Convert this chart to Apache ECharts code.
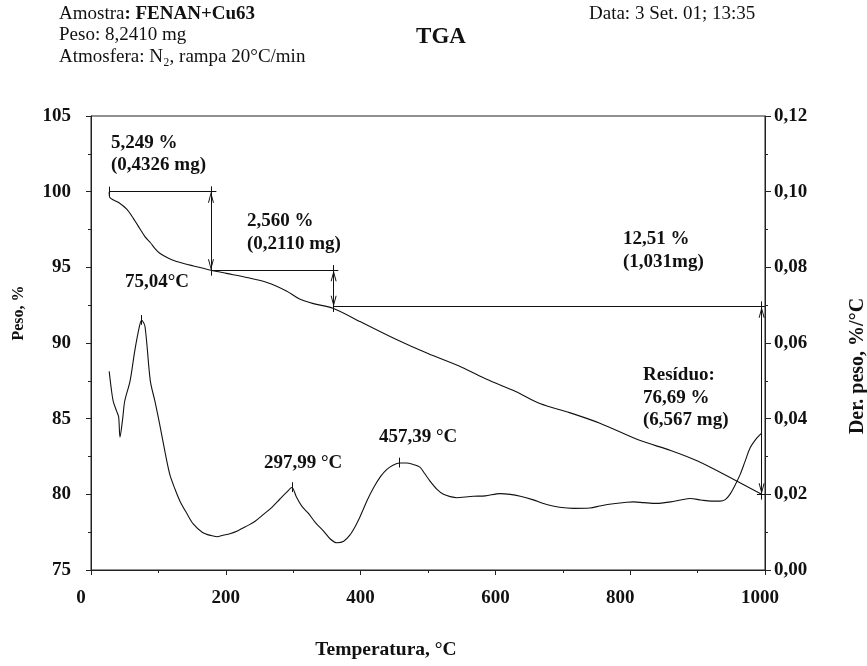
<!DOCTYPE html>
<html><head><meta charset="utf-8">
<script src="https://cdn.jsdelivr.net/npm/echarts@6/dist/echarts.min.js"></script>
<style>html,body{margin:0;padding:0;background:#fff}#c{width:867px;height:666px}</style>
</head><body><div id="c"></div>
<script>
const FONT = '"Liberation Serif", "Times New Roman", Times, serif';

// TGA curve (weight %, left axis)
const tgaTemp = [27, 28, 41, 53, 63, 73, 80, 88, 95, 102, 115, 127, 140, 152, 165, 178, 201, 231, 261, 290, 308, 330, 359, 400, 450, 500, 550, 587, 630, 666, 710, 755, 815, 860, 900, 953, 995];
const tgaWeight = [100.0, 99.61, 99.28, 98.84, 98.22, 97.52, 97.03, 96.64, 96.24, 95.93, 95.6, 95.38, 95.22, 95.09, 94.95, 94.81, 94.6, 94.33, 94.0, 93.44, 92.94, 92.6, 92.3, 91.4, 90.3, 89.3, 88.4, 87.6, 86.8, 86.0, 85.4, 84.7, 83.55, 82.9, 82.2, 81.0, 80.0];

// DTG curve (derivative %/°C, right axis)
const dtgTemp = [27, 30, 33, 38, 41, 43, 47, 50, 58, 65, 72, 75, 80, 88, 95, 102, 110, 117, 125, 132, 142, 152, 165, 178, 187, 196, 206, 218, 231, 243, 256, 268, 280, 290, 298, 305, 313, 322, 333, 345, 355, 365, 375, 384, 392, 399, 410, 419, 430, 439, 448, 458, 468, 478, 488, 495, 503, 513, 523, 533, 543, 555, 567, 585, 607, 622, 637, 655, 676, 695, 716, 740, 757, 775, 795, 805, 820, 839, 860, 875, 889, 905, 920, 933, 941, 948, 955, 963, 970, 978, 988, 995];
const dtgRate = [0.0525, 0.048, 0.0446, 0.042, 0.0405, 0.0351, 0.040, 0.0446, 0.050, 0.058, 0.0645, 0.066, 0.0645, 0.050, 0.0445, 0.0384, 0.031, 0.0252, 0.0212, 0.0182, 0.015, 0.0121, 0.0100, 0.0091, 0.0088, 0.0092, 0.0096, 0.0104, 0.0116, 0.0128, 0.0147, 0.0165, 0.0187, 0.0205, 0.0218, 0.0192, 0.0168, 0.0151, 0.0125, 0.0103, 0.0082, 0.0072, 0.0076, 0.0092, 0.0115, 0.014, 0.0185, 0.0217, 0.0248, 0.0266, 0.0277, 0.0283, 0.0283, 0.0279, 0.0272, 0.0255, 0.0235, 0.0214, 0.0200, 0.0194, 0.0191, 0.0193, 0.0195, 0.0196, 0.0202, 0.0200, 0.0195, 0.0186, 0.0173, 0.0166, 0.0163, 0.0164, 0.0170, 0.0175, 0.0179, 0.0180, 0.0178, 0.0176, 0.0180, 0.0185, 0.0189, 0.0185, 0.0182, 0.0182, 0.0186, 0.0200, 0.0222, 0.0252, 0.0285, 0.0323, 0.0349, 0.0362];

// Weight-loss steps
const stepTemps = [27, 178, 360, 995];
const stepWeights = [100.0, 94.8, 92.4, 80.0];
const stepLineEnds = [186, 367, 1000];

// DTG peaks
const peakTemps = [75.04, 297.99, 457.39];
const peakRates = [0.066, 0.0218, 0.0283];

// Axis tick settings
const xMin = 0, xMax = 1000, xStep = 200;
const yMin = 75, yMax = 105, yStep = 5;
const y2Min = 0, y2Max = 0.12, y2Step = 0.02;

// open arrowhead with its tip at the symbol centre (tiny dot keeps the bbox symmetric)
const arrowPath = 'path://M5,0 L5.02,0.03 L4.98,0.03 Z M5,12 L10,24 L8.3,24 L5,15.6 L1.7,24 L0,24 Z';
const AS = [6, 22];

function seg(x1, y1, x2, y2, a1, a2) {
  const p1 = {coord: [x1, y1]}, p2 = {coord: [x2, y2]};
  if (a1) { p1.symbol = arrowPath; p1.symbolSize = AS; }
  if (a2) { p2.symbol = arrowPath; p2.symbolSize = AS; }
  return [p1, p2];
}

const tgaMarks = [];
tgaMarks.push(seg(stepTemps[0], stepWeights[0] + 0.33, stepTemps[0], stepWeights[0] - 0.3));
for (let i = 0; i < 3; i++) {
  tgaMarks.push(seg(stepTemps[i], stepWeights[i], stepLineEnds[i], stepWeights[i]));
  tgaMarks.push(seg(stepTemps[i + 1], stepWeights[i] + 0.35, stepTemps[i + 1], stepWeights[i + 1] - 0.35));
  tgaMarks.push(seg(stepTemps[i + 1], stepWeights[i], stepTemps[i + 1], stepWeights[i + 1], true, true));
}
tgaMarks.push(seg(stepTemps[3] - 7, stepWeights[3], xMax, stepWeights[3]));

const dtgMarks = peakTemps.map((t, i) => seg(t, peakRates[i] + 0.0014, t, peakRates[i] - 0.0012));

const markLineBase = {
  silent: true, animation: false, symbol: ['none', 'none'],
  label: {show: false}, emphasis: {disabled: true},
  lineStyle: {color: '#111', width: 1, type: 'solid'}
};

const labelFont = {fontFamily: FONT, fontWeight: 'bold', fontSize: 19, color: '#111'};
const annFont = 'bold 19px ' + FONT;
const richLab = {
  L: Object.assign({padding: [0, 20, 0, 0]}, labelFont),
  l: Object.assign({padding: [0, 10, 0, 0]}, labelFont),
  c: Object.assign({}, labelFont)
};

const chart = echarts.init(document.getElementById('c'));
chart.setOption({
  animation: false,
  backgroundColor: '#fff',
  grid: {left: 91, right: 102, top: 116, bottom: 96, show: true, borderColor: '#222', borderWidth: 1},
  xAxis: {
    type: 'value', min: xMin, max: xMax, interval: xStep,
    axisLine: {lineStyle: {color: '#222', width: 1}},
    axisTick: {show: true, length: 5, lineStyle: {color: '#222'}},
    minorTick: {show: true, splitNumber: 2, length: 3, lineStyle: {color: '#222'}},
    splitLine: {show: false},
    axisLabel: Object.assign({
      margin: 19,
      formatter: v => (v === 0 || v === 800) ? '{L|' + v + '}' : (v === 1000 ? '{l|' + v + '}' : '{c|' + v + '}'),
      rich: richLab
    }, labelFont)
  },
  yAxis: [{
    type: 'value', min: yMin, max: yMax, interval: yStep, position: 'left',
    axisLine: {show: true, lineStyle: {color: '#222', width: 1}},
    axisTick: {show: true, length: 5, lineStyle: {color: '#222'}},
    minorTick: {show: true, splitNumber: 2, length: 3, lineStyle: {color: '#222'}},
    splitLine: {show: false},
    axisLabel: Object.assign({margin: 20, formatter: v => String(v)}, labelFont)
  }, {
    type: 'value', min: y2Min, max: y2Max, interval: y2Step, position: 'right',
    axisLine: {show: true, lineStyle: {color: '#222', width: 1}},
    axisTick: {show: true, length: 6, lineStyle: {color: '#222'}},
    minorTick: {show: true, splitNumber: 2, length: 3, lineStyle: {color: '#222'}},
    splitLine: {show: false},
    axisLabel: Object.assign({margin: 9, formatter: v => v.toFixed(2).replace('.', ',')}, labelFont)
  }],
  series: [{
    type: 'line', yAxisIndex: 0, showSymbol: false, silent: true,
    data: tgaTemp.map((t, i) => [t, tgaWeight[i]]),
    smooth: 0.3,
    lineStyle: {color: '#111', width: 1.1},
    markLine: Object.assign({data: tgaMarks}, markLineBase)
  }, {
    type: 'line', yAxisIndex: 1, showSymbol: false, silent: true,
    data: dtgTemp.map((t, i) => [t, dtgRate[i]]),
    smooth: 0.3,
    lineStyle: {color: '#111', width: 1.1},
    markLine: Object.assign({data: dtgMarks}, markLineBase)
  }],
  graphic: [
    {type: 'text', x: 59, y: 14, style: {text: '{r|Amostra}{b|: FENAN+Cu63}', textVerticalAlign: 'middle', rich: {
      r: {fontFamily: FONT, fontSize: 19, fill: '#111'}, b: {fontFamily: FONT, fontSize: 19, fontWeight: 'bold', fill: '#111'}}}},
    {type: 'text', x: 59, y: 35.5, style: {text: 'Peso: 8,2410 mg', font: '19px ' + FONT, fill: '#111', textVerticalAlign: 'middle'}},
    {type: 'text', x: 59, y: 57, style: {text: 'Atmosfera: N₂, rampa 20°C/min', font: '19px ' + FONT, fill: '#111', textVerticalAlign: 'middle'}},
    {type: 'text', x: 589, y: 14, style: {text: 'Data: 3 Set. 01; 13:35', font: '19px ' + FONT, fill: '#111', textVerticalAlign: 'middle'}},
    {type: 'text', x: 441, y: 37, style: {text: 'TGA', font: 'bold 23px ' + FONT, fill: '#111', textAlign: 'center', textVerticalAlign: 'middle'}},
    {type: 'text', x: 19, y: 313, rotation: Math.PI / 2, style: {text: 'Peso, %', font: 'bold 16px ' + FONT, fill: '#111', textAlign: 'center', textVerticalAlign: 'middle'}},
    {type: 'text', x: 858, y: 366, rotation: Math.PI / 2, style: {text: 'Der. peso, %/°C', font: 'bold 20px ' + FONT, fill: '#111', textAlign: 'center', textVerticalAlign: 'middle'}},
    {type: 'text', x: 386, y: 650, style: {text: 'Temperatura, °C', font: 'bold 19.5px ' + FONT, fill: '#111', textAlign: 'center', textVerticalAlign: 'middle'}},
    {type: 'text', x: 111, y: 132, style: {text: '5,249 %\n(0,4326 mg)', font: annFont, lineHeight: 22, fill: '#111', textVerticalAlign: 'top'}},
    {type: 'text', x: 247, y: 210, style: {text: '2,560 %\n(0,2110 mg)', font: annFont, lineHeight: 23, fill: '#111', textVerticalAlign: 'top'}},
    {type: 'text', x: 623, y: 228, style: {text: '12,51 %\n(1,031mg)', font: annFont, lineHeight: 23, fill: '#111', textVerticalAlign: 'top'}},
    {type: 'text', x: 643, y: 364, style: {text: 'Resíduo:\n76,69 %\n(6,567 mg)', font: annFont, lineHeight: 22.5, fill: '#111', textVerticalAlign: 'top'}},
    {type: 'text', x: 125, y: 282, style: {text: '75,04°C', font: annFont, fill: '#111', textVerticalAlign: 'middle'}},
    {type: 'text', x: 264, y: 463, style: {text: '297,99 °C', font: annFont, fill: '#111', textVerticalAlign: 'middle'}},
    {type: 'text', x: 379, y: 437, style: {text: '457,39 °C', font: annFont, fill: '#111', textVerticalAlign: 'middle'}}
  ]
});
</script>
</body></html>
